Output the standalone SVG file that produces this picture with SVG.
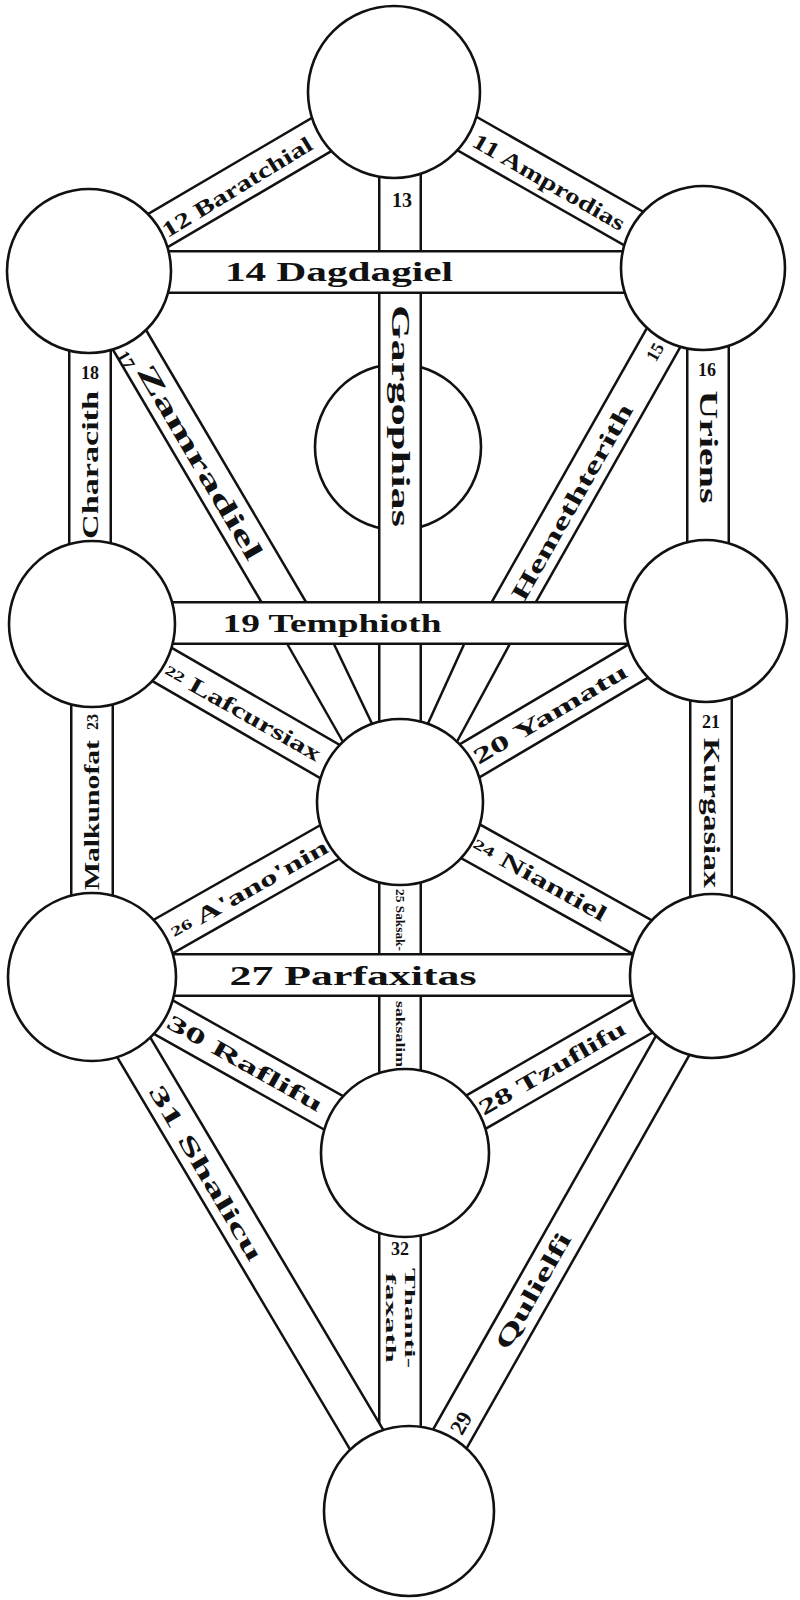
<svg xmlns="http://www.w3.org/2000/svg" width="800" height="1600" viewBox="0 0 800 1600">
<style>
.bo{stroke:#111;stroke-width:44;fill:none}
.bi{stroke:#fff;stroke-width:39;fill:none}
.do{stroke:#111;stroke-width:41;fill:none}
.di{stroke:#fff;stroke-width:36;fill:none}
.ln{stroke:#111;stroke-width:2.5;fill:none}
.node{fill:#fff;stroke:#111;stroke-width:2.6}
.t{font-family:"Liberation Serif",serif;font-weight:bold;fill:#111;text-anchor:middle;dominant-baseline:central}
</style>
<rect width="800" height="1600" fill="#fff"/>
<g id="daath"><circle class="node" cx="398" cy="447" r="83"/></g>
<g id="connectors">
<line class="bo" x1="400" y1="92" x2="400" y2="802"/><line class="bi" x1="400" y1="92" x2="400" y2="802"/>
<line class="bo" x1="400" y1="802" x2="400" y2="1153"/><line class="bi" x1="400" y1="802" x2="400" y2="1153"/>
<line class="bo" x1="400" y1="1153" x2="400" y2="1511"/><line class="bi" x1="400" y1="1153" x2="400" y2="1511"/>
<line class="bo" x1="90" y1="271" x2="90" y2="624"/><line class="bi" x1="90" y1="271" x2="90" y2="624"/>
<line class="bo" x1="708" y1="268" x2="708" y2="621"/><line class="bi" x1="708" y1="268" x2="708" y2="621"/>
<line class="bo" x1="92" y1="624" x2="92" y2="977"/><line class="bi" x1="92" y1="624" x2="92" y2="977"/>
<line class="bo" x1="711" y1="621" x2="711" y2="976"/><line class="bi" x1="711" y1="621" x2="711" y2="976"/>
<line class="do" x1="89" y1="271" x2="296" y2="623"/><line class="di" x1="89" y1="271" x2="296" y2="623"/>
<line class="do" x1="703" y1="268" x2="502" y2="623"/><line class="di" x1="703" y1="268" x2="502" y2="623"/>
<line class="ln" x1="285" y1="640" x2="347" y2="749"/>
<line class="ln" x1="332" y1="640" x2="375" y2="730"/>
<line class="ln" x1="466" y1="640" x2="425" y2="730"/>
<line class="ln" x1="512" y1="640" x2="453" y2="749"/>
<line class="do" x1="394" y1="92" x2="703" y2="268"/><line class="di" x1="394" y1="92" x2="703" y2="268"/>
<line class="do" x1="89" y1="271" x2="394" y2="92"/><line class="di" x1="89" y1="271" x2="394" y2="92"/>
<line class="do" x1="92" y1="624" x2="400" y2="802"/><line class="di" x1="92" y1="624" x2="400" y2="802"/>
<line class="do" x1="706" y1="621" x2="400" y2="802"/><line class="di" x1="706" y1="621" x2="400" y2="802"/>
<line class="do" x1="92" y1="977" x2="400" y2="802"/><line class="di" x1="92" y1="977" x2="400" y2="802"/>
<line class="do" x1="400" y1="802" x2="712" y2="976"/><line class="di" x1="400" y1="802" x2="712" y2="976"/>
<line class="do" x1="92" y1="977" x2="405" y2="1153"/><line class="di" x1="92" y1="977" x2="405" y2="1153"/>
<line class="do" x1="712" y1="976" x2="405" y2="1153"/><line class="di" x1="712" y1="976" x2="405" y2="1153"/>
<line class="do" x1="92" y1="977" x2="409" y2="1511"/><line class="di" x1="92" y1="977" x2="409" y2="1511"/>
<line class="do" x1="712" y1="976" x2="409" y2="1511"/><line class="di" x1="712" y1="976" x2="409" y2="1511"/>
<line class="bo" x1="89" y1="272" x2="703" y2="272"/><line class="bi" x1="89" y1="272" x2="703" y2="272"/>
<line class="bo" x1="92" y1="623" x2="706" y2="623"/><line class="bi" x1="92" y1="623" x2="706" y2="623"/>
<line class="bo" x1="92" y1="975" x2="712" y2="975"/><line class="bi" x1="92" y1="975" x2="712" y2="975"/>
</g>
<g id="kether"><circle class="node" cx="394" cy="92" r="86"/></g>
<g id="binah"><circle class="node" cx="89" cy="271" r="82"/></g>
<g id="chokmah"><circle class="node" cx="703" cy="268" r="82"/></g>
<g id="geburah"><circle class="node" cx="92" cy="624" r="83"/></g>
<g id="chesed"><circle class="node" cx="706" cy="621" r="81"/></g>
<g id="tiphareth"><circle class="node" cx="400" cy="802" r="83"/></g>
<g id="hod"><circle class="node" cx="92" cy="977" r="84"/></g>
<g id="netzach"><circle class="node" cx="712" cy="976" r="82"/></g>
<g id="yesod"><circle class="node" cx="405" cy="1153" r="84"/></g>
<g id="malkuth"><circle class="node" cx="409" cy="1511" r="85"/></g>
<g id="labels">
<text class="t" font-size="22" transform="translate(237,187) rotate(-31.5)" textLength="172" lengthAdjust="spacingAndGlyphs">12 Baratchial</text>
<text class="t" font-size="22" transform="translate(549,182) rotate(30)" textLength="172" lengthAdjust="spacingAndGlyphs">11 Amprodias</text>
<text class="t" font-size="20" x="402" y="200">13</text>
<text class="t" font-size="27" x="339" y="272" textLength="228" lengthAdjust="spacingAndGlyphs">14 Dagdagiel</text>
<text class="t" font-size="25" transform="translate(400,416) rotate(90)" textLength="222" lengthAdjust="spacingAndGlyphs">Gargophias</text>
<text class="t" font-size="18" x="90" y="373">18</text>
<text class="t" font-size="23" transform="translate(90,465) rotate(-90)" textLength="148" lengthAdjust="spacingAndGlyphs">Characith</text>
<text class="t" font-size="18" transform="translate(126,360) rotate(59.6)">17</text>
<text class="t" font-size="27" transform="translate(200,462) rotate(59.6)" textLength="222" lengthAdjust="spacingAndGlyphs">Zamradiel</text>
<text class="t" font-size="18" transform="translate(655,352) rotate(-60.4)">15</text>
<text class="t" font-size="24" transform="translate(572,502) rotate(-60.4)" textLength="222" lengthAdjust="spacingAndGlyphs">Hemethterith</text>
<text class="t" font-size="18" x="707" y="370">16</text>
<text class="t" font-size="25" transform="translate(708,447) rotate(90)" textLength="113" lengthAdjust="spacingAndGlyphs">Uriens</text>
<text class="t" font-size="26" x="332" y="623" textLength="219" lengthAdjust="spacingAndGlyphs">19 Temphioth</text>
<text class="t" font-size="22" transform="translate(243,712) rotate(29.5)" textLength="176" lengthAdjust="spacingAndGlyphs"><tspan font-size="14">22</tspan> Lafcursiax</text>
<text class="t" font-size="22" transform="translate(550,714) rotate(-30.6)" textLength="175" lengthAdjust="spacingAndGlyphs">20 Yamatu</text>
<text class="t" font-size="18" x="711" y="722">21</text>
<text class="t" font-size="23" transform="translate(711,813) rotate(90)" textLength="150" lengthAdjust="spacingAndGlyphs">Kurgasiax</text>
<text class="t" font-size="16" transform="translate(92,722) rotate(-90)">23</text>
<text class="t" font-size="21" transform="translate(92,815) rotate(-90)" textLength="150" lengthAdjust="spacingAndGlyphs">Malkunofat</text>
<text class="t" font-size="22" transform="translate(249,889) rotate(-29.6)" textLength="178" lengthAdjust="spacingAndGlyphs"><tspan font-size="14">26</tspan> A'ano'nin</text>
<text class="t" font-size="22" transform="translate(540,879) rotate(29.2)" textLength="150" lengthAdjust="spacingAndGlyphs"><tspan font-size="14">24</tspan> Niantiel</text>
<text class="t" font-size="28" x="353" y="975" textLength="247" lengthAdjust="spacingAndGlyphs">27 Parfaxitas</text>
<text class="t" font-size="13" transform="translate(400,920) rotate(90)" textLength="62" lengthAdjust="spacingAndGlyphs">25 Saksak-</text>
<text class="t" font-size="13" transform="translate(400,1034) rotate(90)" textLength="66" lengthAdjust="spacingAndGlyphs">saksalim</text>
<text class="t" font-size="18" x="400" y="1249">32</text>
<text class="t" font-size="15" transform="translate(410,1318) rotate(90)" textLength="100" lengthAdjust="spacingAndGlyphs">Thanti-</text>
<text class="t" font-size="15" transform="translate(391,1318) rotate(90)" textLength="90" lengthAdjust="spacingAndGlyphs">faxath</text>
<text class="t" font-size="22" transform="translate(245,1063) rotate(29.3)" textLength="175" lengthAdjust="spacingAndGlyphs">30 Raflifu</text>
<text class="t" font-size="22" transform="translate(552,1068) rotate(-30)" textLength="166" lengthAdjust="spacingAndGlyphs">28 Tzuflifu</text>
<text class="t" font-size="24" transform="translate(206,1173) rotate(59.3)" textLength="200" lengthAdjust="spacingAndGlyphs">31 Shalicu</text>
<text class="t" font-size="22" transform="translate(461,1423) rotate(-60.5)">29</text>
<text class="t" font-size="24" transform="translate(533,1291) rotate(-60.5)" textLength="130" lengthAdjust="spacingAndGlyphs">Qulielfi</text>
</g>
</svg>
